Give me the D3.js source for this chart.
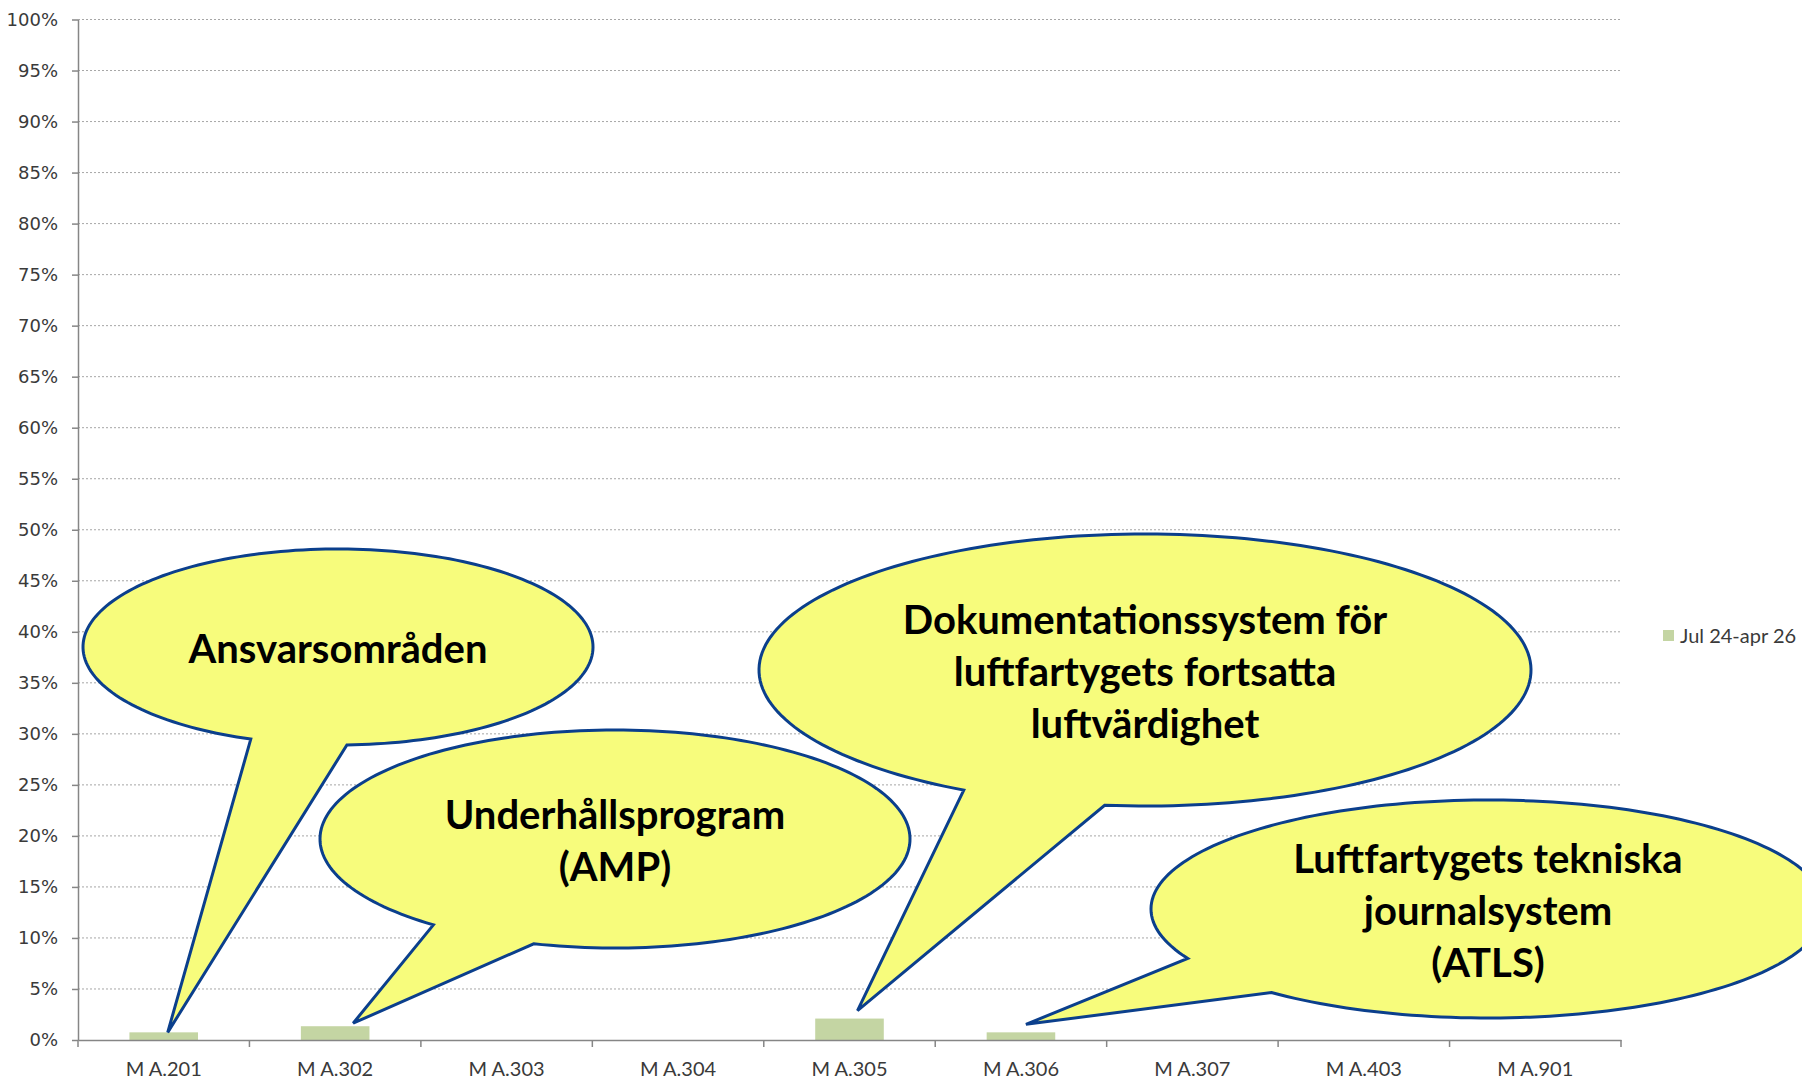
<!DOCTYPE html>
<html>
<head>
<meta charset="utf-8">
<script src="https://cdn.jsdelivr.net/npm/d3@7"></script>
<style>
    body { margin: 0; background: #fff; }
    svg { display: block; }
    .axis-y text { font-family: 'DejaVu Sans', sans-serif; font-size: 18px; fill: #3a3a3a; }
    .axis-x text { font-family: Lato, sans-serif; font-size: 20px; fill: #3a3a3a; }
    .grid line { stroke: #a6a6a6; stroke-dasharray: 2,2; }
    .legend text { font-family: Lato, sans-serif; font-size: 20px; fill: #3a3a3a; }
    .callout text { font-family: Lato, sans-serif; font-weight: 700; font-size: 40px; fill: #000; }
</style>
</head>
<body>
<div id="chart"></div>
<script>
// data
const categories = ['M A.201', 'M A.302', 'M A.303', 'M A.304', 'M A.305', 'M A.306', 'M A.307', 'M A.403', 'M A.901'];
const values = [0.0075, 0.0135, 0, 0, 0.021, 0.0075, 0, 0, 0];
const seriesName = 'Jul 24-apr 26';
const yTicks = d3.range(0, 21).map(i => i / 20);

// callout texts, each pointing to a category
const calloutLabels = [
    ['Ansvarsområden'],
    ['Underhållsprogram', '(AMP)'],
    ['Dokumentationssystem för', 'luftfartygets fortsatta', 'luftvärdighet'],
    ['Luftfartygets tekniska', 'journalsystem', '(ATLS)']
];
const calloutTargets = ['M A.201', 'M A.302', 'M A.305', 'M A.306'];

// layout
const width = 1802, height = 1082;
const margin = {t:19.5, r:181, b:42, l:78};
const w = width - margin.l - margin.r;
const h = height - margin.t - margin.b;

const barColor = '#c4d5a3';
const fillYellow = '#f7fc7c';
const strokeBlue = '#0b3f8c';

const svg = d3.select('#chart').append('svg')
    .attr('width', width)
    .attr('height', height);

const plot = svg.append('g')
    .attr('transform', `translate(${margin.l},${margin.t})`);

// scales
const scaleX = d3.scaleBand()
    .domain(categories)
    .range([0, w])
    .paddingInner(0)
    .paddingOuter(0);

const scaleY = d3.scaleLinear()
    .domain([0, 1])
    .range([h, 0]);

// gridlines
plot.append('g')
    .attr('class', 'grid')
    .selectAll('line')
    .data(yTicks.filter(d => d > 0))
    .join('line')
    .attr('x1', 0)
    .attr('x2', w)
    .attr('y1', d => scaleY(d))
    .attr('y2', d => scaleY(d));

// bars
const barW = scaleX.bandwidth() * 0.4;
plot.append('g')
    .selectAll('rect')
    .data(categories.map((c, i) => ({cat:c, v:values[i]})))
    .join('rect')
    .attr('x', d => scaleX(d.cat) + (scaleX.bandwidth() - barW) / 2)
    .attr('y', d => scaleY(d.v))
    .attr('width', barW)
    .attr('height', d => h - scaleY(d.v))
    .style('fill', barColor);

// y axis
const axisY = d3.axisLeft(scaleY)
    .tickValues(yTicks)
    .tickFormat(d3.format('.0%'))
    .tickSizeInner(6)
    .tickSizeOuter(0)
    .tickPadding(14);
const gy = plot.append('g')
    .attr('class', 'axis axis-y')
    .call(axisY);
gy.selectAll('path, line').attr('stroke', '#868686').attr('stroke-width', 1.5);

// x axis, ticks at band edges
const axisX = d3.axisBottom(scaleX)
    .tickSize(0)
    .tickPadding(22);
const gx = plot.append('g')
    .attr('class', 'axis axis-x')
    .attr('transform', `translate(0,${h})`)
    .call(axisX);
gx.select('.domain').attr('stroke', '#868686').attr('stroke-width', 1.5);
gx.selectAll('.edge')
    .data(categories.map(c => scaleX(c)).concat([w]))
    .join('line')
    .attr('class', 'edge')
    .attr('x1', d => d).attr('x2', d => d)
    .attr('y1', 0).attr('y2', 7)
    .attr('stroke', '#868686')
    .attr('stroke-width', 1.5);

// legend
const legend = svg.append('g')
    .attr('class', 'legend')
    .attr('transform', 'translate(1663,636)');
legend.append('rect')
    .attr('x', 0).attr('y', -6)
    .attr('width', 11).attr('height', 11)
    .style('fill', barColor);
legend.append('text')
    .attr('x', 17).attr('y', 7)
    .text(seriesName);

// callout shapes: ellipse + wedge going down to the bar
// geometry: ellipse centre / radii, two base angles of the wedge (deg), tip offset from bar top
const calloutShapes = [
    {cx:338, cy:647, rx:255, ry:98, a0:110, a1:88, dx:4, dy:0},
    {cx:615, cy:839, rx:295, ry:109, a0:128, a1:106, dx:18, dy:-3},
    {cx:1145, cy:670, rx:386, ry:136, a0:118, a1:96, dx:8, dy:-8},
    {cx:1488, cy:909, rx:337, ry:109, a0:153, a1:130, dx:5, dy:-8}
];

const toRad = d => d * Math.PI / 180;
const lineGen = d3.line();

calloutShapes.forEach((s, i) => {
    const cat = calloutTargets[i];
    const v = values[categories.indexOf(cat)];
    const tip = [margin.l + scaleX(cat) + scaleX.bandwidth() / 2 + s.dx, margin.t + scaleY(v) + s.dy];

    // walk around the ellipse the long way from a1 back to a0 (angles with y down)
    const pts = [];
    const start = toRad(s.a1);
    let end = toRad(s.a0);
    if (end <= start) end += Math.PI * 2;
    const steps = 200;
    const span = (2 * Math.PI) - (end - start);
    for (let k = 0; k <= steps; k++) {
        const t = start - span * k / steps;
        pts.push([s.cx + s.rx * Math.cos(t), s.cy + s.ry * Math.sin(t)]);
    }
    pts.push(tip);

    const g = svg.append('g').attr('class', 'callout');
    g.append('path')
        .attr('d', lineGen(pts) + 'Z')
        .style('fill', fillYellow)
        .style('stroke', strokeBlue)
        .style('stroke-width', 3)
        .style('stroke-linejoin', 'miter');

    const lines = calloutLabels[i];
    const lh = 52;
    g.selectAll('text')
        .data(lines)
        .join('text')
        .attr('x', s.cx)
        .attr('y', (d, j) => s.cy + 2 + (j - (lines.length - 1) / 2) * lh)
        .attr('dy', '0.35em')
        .attr('text-anchor', 'middle')
        .text(d => d);
});
</script>
</body>
</html>
